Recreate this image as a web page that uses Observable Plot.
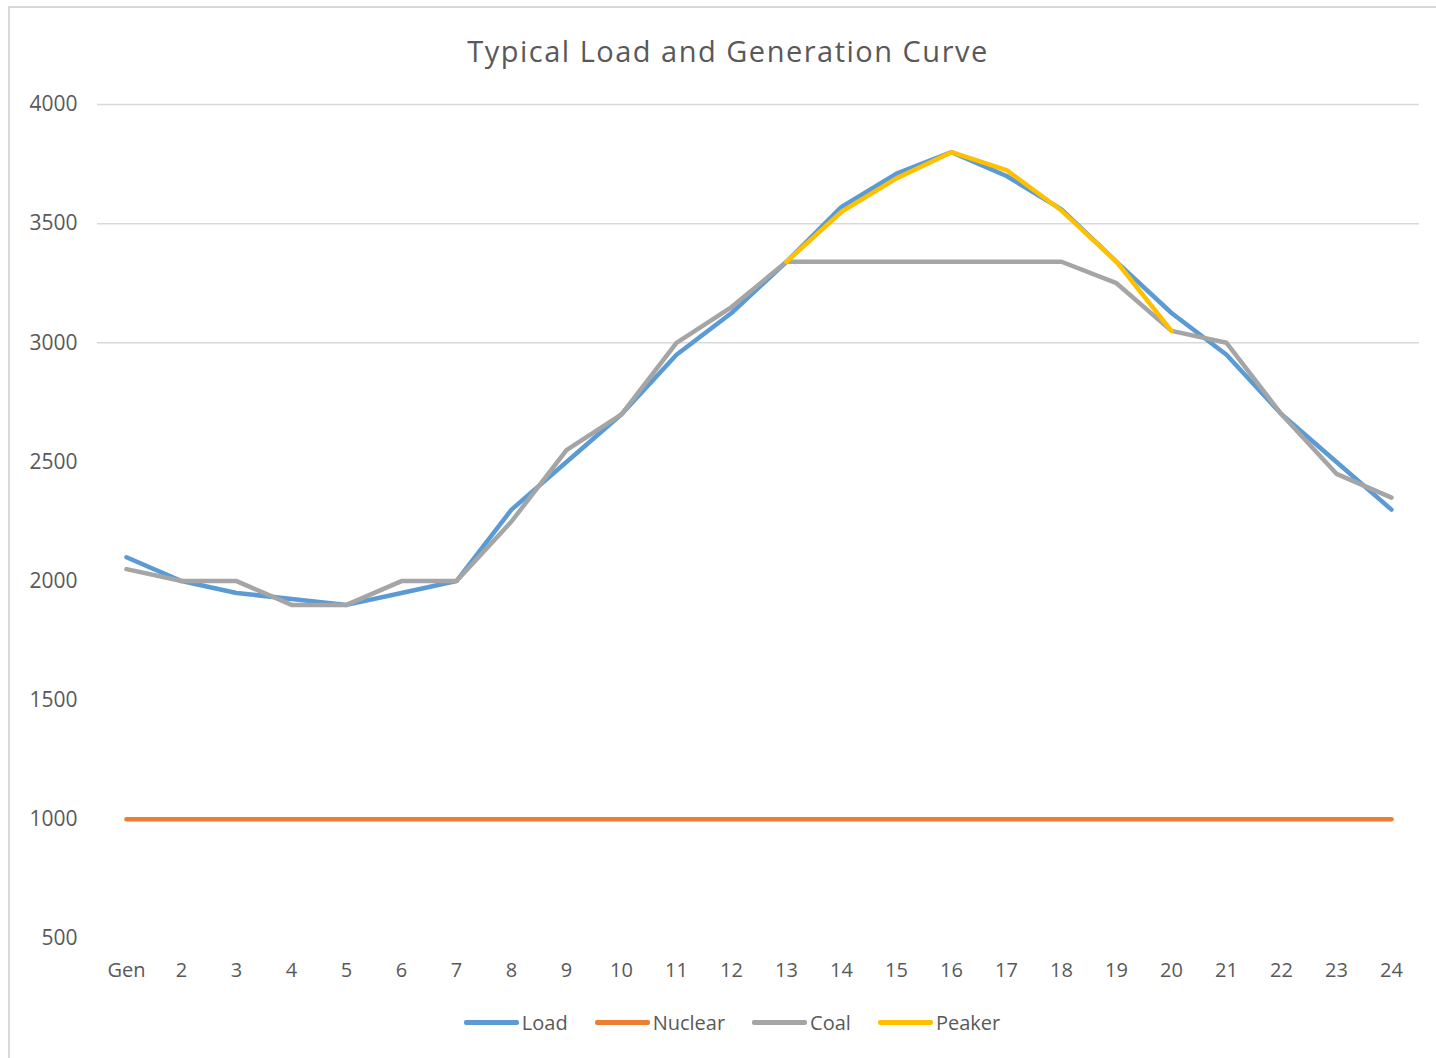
<!DOCTYPE html>
<html>
<head>
<meta charset="utf-8">
<script src="https://cdn.jsdelivr.net/npm/d3@7"></script>
<script src="https://cdn.jsdelivr.net/npm/@observablehq/plot@0.6"></script>
<style>
  html, body { margin: 0; padding: 0; background: #fff; }
  body { width: 1436px; height: 1058px; position: relative; overflow: hidden; font-family: "Open Sans", Lato, sans-serif; }
  #frame { position: absolute; left: 8px; top: 6px; width: 1460px; height: 1080px; border: 2px solid #d9d9d9; box-sizing: border-box; }
  #title { position: absolute; left: 0; top: 0; width: 1436px; height: 85px; text-align: center; font-size: 29px; letter-spacing: 1.5px; line-height: 102px; color: #595959; padding-left: 20px; box-sizing: border-box; }
  #chart { position: absolute; left: 0; top: 85px; }
  #legend { position: absolute; left: 0; top: 1009px; width: 1436px; display: flex; justify-content: center; gap: 27px; font-size: 20px; color: #595959; padding-left: 28px; box-sizing: border-box; }
  .item { display: flex; align-items: center; }
  .swatch { width: 55px; height: 4.5px; border-radius: 2px; margin-right: 3px; }
</style>
</head>
<body>
<div id="frame"></div>
<div id="title">Typical Load and Generation Curve</div>
<div id="chart"></div>
<div id="legend"></div>
<script>
const hours = ["Gen","2","3","4","5","6","7","8","9","10","11","12","13","14","15","16","17","18","19","20","21","22","23","24"];
const load    = [2100,2000,1950,1925,1900,1950,2000,2300,2500,2700,2950,3125,3340,3570,3710,3800,3700,3560,3340,3125,2950,2700,2500,2300];
const nuclear = [1000,1000,1000,1000,1000,1000,1000,1000,1000,1000,1000,1000,1000,1000,1000,1000,1000,1000,1000,1000,1000,1000,1000,1000];
const coal    = [2050,2000,2000,1900,1900,2000,2000,2250,2550,2700,3000,3150,3340,3340,3340,3340,3340,3340,3250,3050,3000,2700,2450,2350];
const peaker  = [null,null,null,null,null,null,null,null,null,null,null,null,3340,3550,3690,3800,3725,3555,3340,3050,null,null,null,null];
const seriesNames = ["Load","Nuclear","Coal","Peaker"];
const seriesColors = ["#5B9BD5","#ED7D31","#A5A5A5","#FFC000"];
const yTicks = [500,1000,1500,2000,2500,3000,3500,4000];
const gridTicks = [3000,3500,4000];

const seriesValues = [load, nuclear, coal, peaker];
const rows = [];
seriesValues.forEach((vals, si) => {
  vals.forEach((v, i) => {
    if (v != null) rows.push({hour: hours[i], value: v, series: seriesNames[si]});
  });
});

const chart = Plot.plot({
  width: 1436,
  height: 910,
  marginLeft: 97,
  marginRight: 17,
  marginTop: 19,
  marginBottom: 57,
  style: {fontFamily: "'Open Sans', Lato, sans-serif", fontSize: "20px", color: "#595959", background: "transparent"},
  x: {type: "point", domain: hours, padding: 0.5, label: null},
  y: {domain: [500, 4000], label: null},
  color: {domain: seriesNames, range: seriesColors},
  marks: [
    Plot.gridY(gridTicks, {stroke: "#d9d9d9", strokeOpacity: 1, strokeWidth: 1.5}),
    Plot.axisY(yTicks, {tickSize: 0, tickPadding: 20, label: null, fill: "#595959", fontSize: 21, tickFormat: d3.format("d")}),
    Plot.axisX({tickSize: 0, tickPadding: 24, label: null, fill: "#595959"}),
    Plot.line(rows, {x: "hour", y: "value", z: "series", stroke: "series", strokeWidth: 4.5, strokeLinejoin: "round", strokeLinecap: "round"})
  ]
});
document.getElementById("chart").appendChild(chart);

const legend = document.getElementById("legend");
seriesNames.forEach((name, i) => {
  const item = document.createElement("div");
  item.className = "item";
  const sw = document.createElement("div");
  sw.className = "swatch";
  sw.style.background = seriesColors[i];
  const label = document.createElement("span");
  label.textContent = name;
  item.appendChild(sw);
  item.appendChild(label);
  legend.appendChild(item);
});
</script>
</body>
</html>
